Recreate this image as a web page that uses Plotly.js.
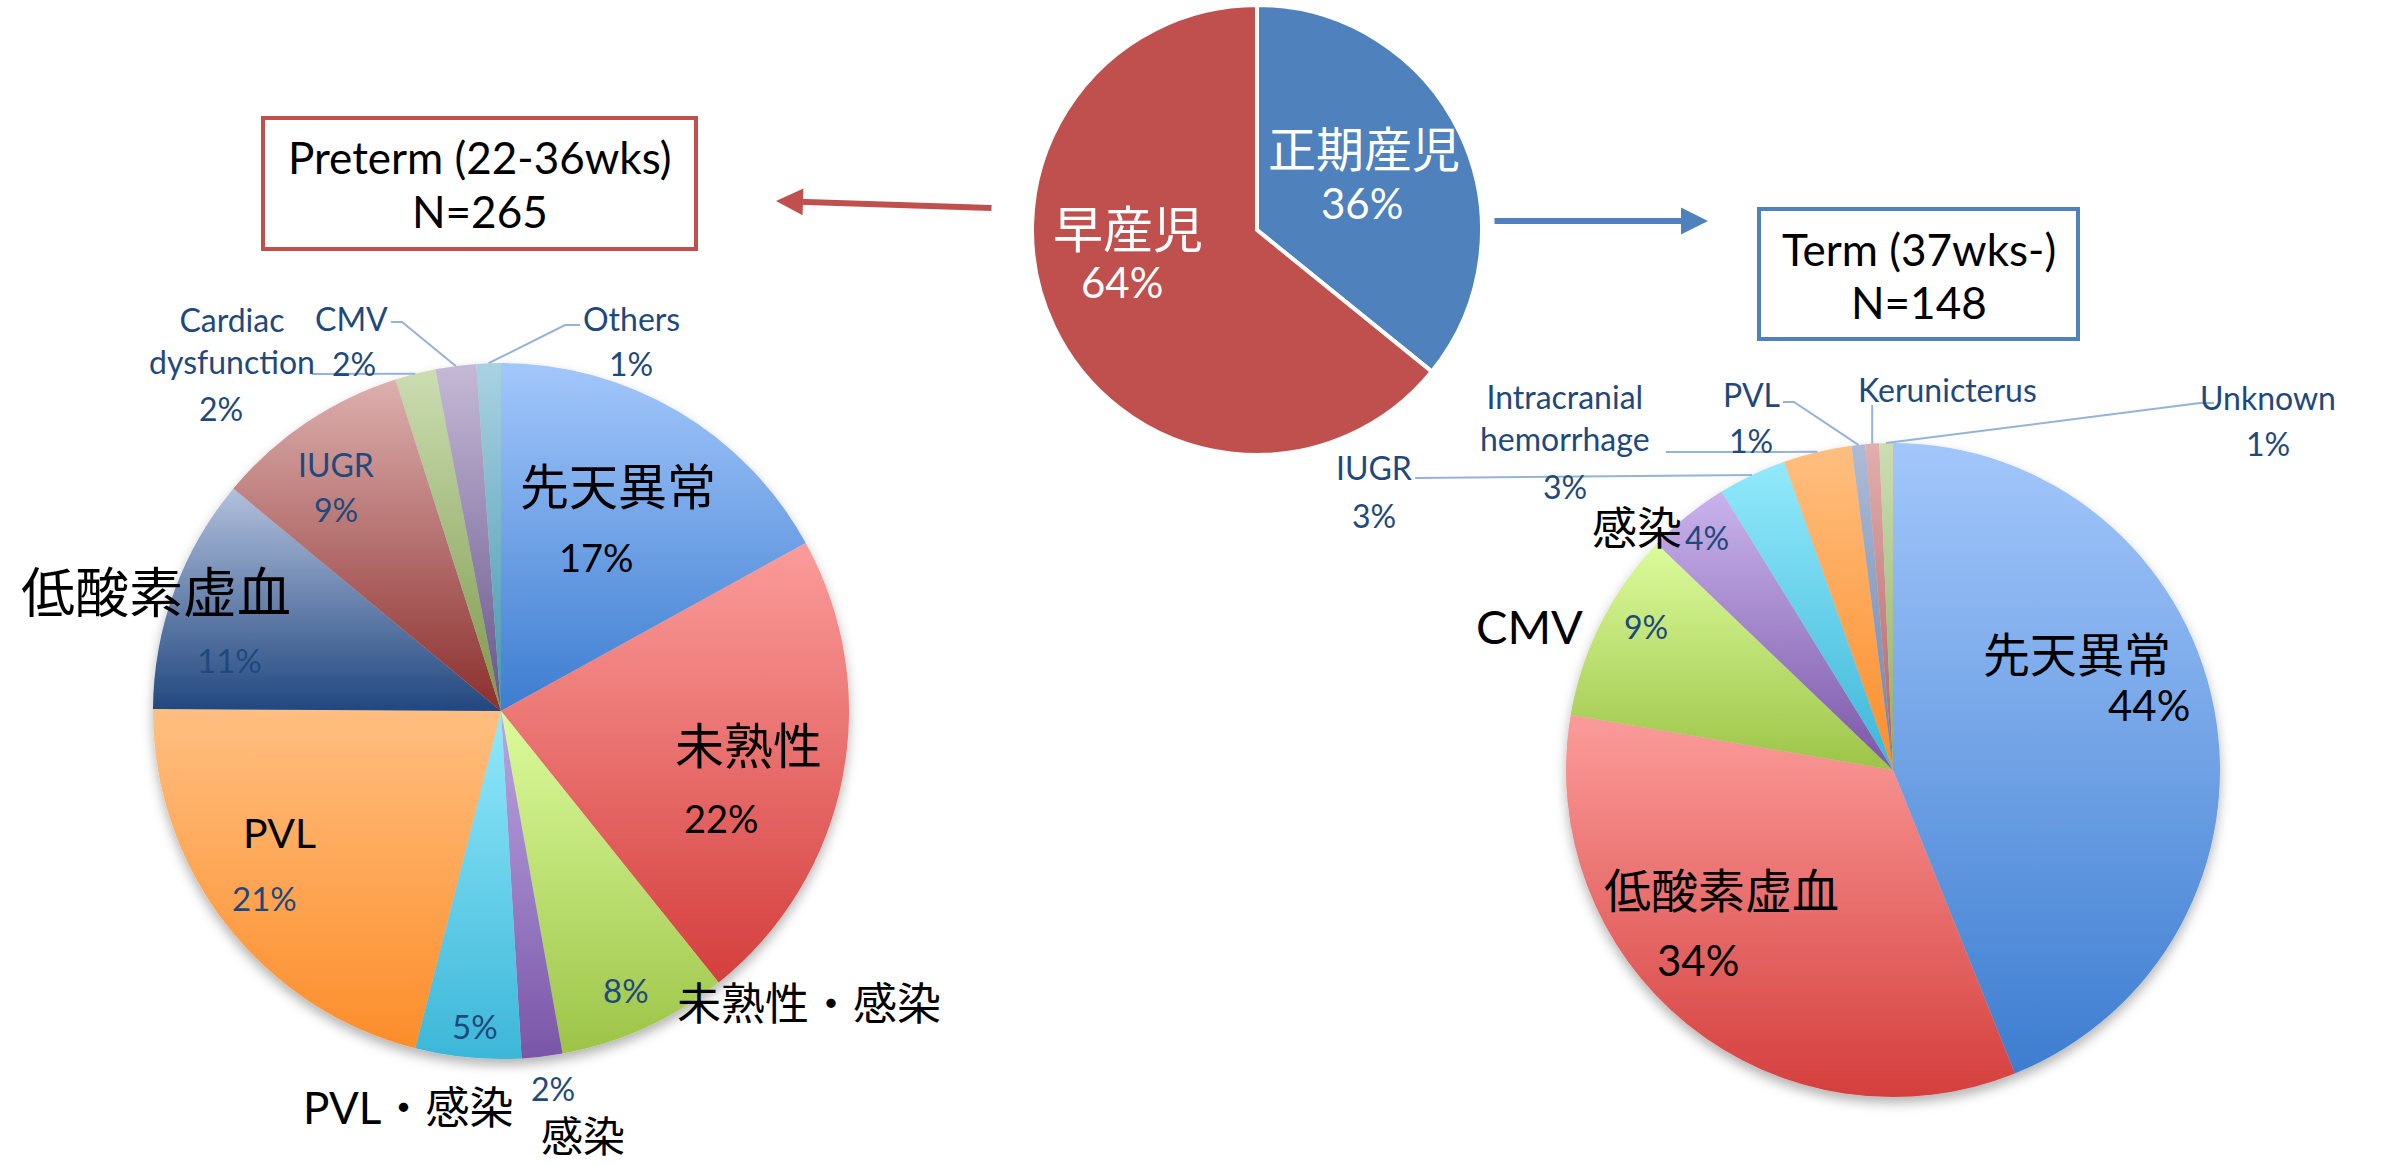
<!DOCTYPE html>
<html>
<head>
<meta charset="utf-8">
<script src="https://cdn.plot.ly/plotly-3.0.1.min.js"></script>
<style>
html,body{margin:0;padding:0;background:#fff;}
#chart{width:2394px;height:1166px;}
</style>
</head>
<body>
<div id="chart"></div>
<script>
// ---------------- DATA ----------------
const birthLabels = ['正期産児', '早産児'];
const birthCounts = [148, 265];

const pretermLabels = ['先天異常', '未熟性', '未熟性・感染', '感染', 'PVL・感染', 'PVL', '低酸素虚血', 'IUGR', 'Cardiac dysfunction', 'CMV', 'Others'];
const pretermCounts = [45, 59, 21, 5, 13, 56, 29, 24, 5, 5, 3];

const termLabels = ['先天異常', '低酸素虚血', 'CMV', '感染', 'IUGR', 'Intracranial hemorrhage', 'PVL', 'Kerunicterus', 'Unknown'];
const termCounts = [65, 50, 14, 6, 5, 5, 1, 1, 1];

const groupTitles = ['Preterm (22-36wks)', 'Term (37wks-)'];

// ---------------- STYLE / LAYOUT CONFIG ----------------
const W = 2394, H = 1166;
const fx = x => x / W;
const fy = y => 1 - y / H;
const FONT = "Lato, 'Noto Sans CJK JP', sans-serif";
const COL = {k: '#000000', n: '#1F497D', w: '#FFFFFF'};

const GEOM = {
  birth:   {cx: 1257, cy: 230, r: 225},
  preterm: {cx: 501,  cy: 711, r: 348},
  term:    {cx: 1893, cy: 770, r: 327}
};

const birthColors = ['#4F81BD', '#C0504D'];

const pretermGrad = [
  ['#A3C7FB', '#3D7DD0'], ['#FB9C9A', '#D43F3D'], ['#DCFB9C', '#9CC447'],
  ['#BCA6E2', '#7A56A8'], ['#92E9FB', '#3CB6D8'], ['#FFBF80', '#FC8D2A'],
  ['#B2C0DC', '#21477F'], ['#DCB0AE', '#8C2F2E'], ['#CCDDB2', '#7C984A'],
  ['#C6B9D6', '#64548A'], ['#A9D2E2', '#4496AE']
];
const termGrad = [
  ['#A3C7FB', '#3D7DD0'], ['#FB9C9A', '#D43F3D'], ['#DCFB9C', '#9CC447'],
  ['#C9B3EC', '#7A56A8'], ['#92E9FB', '#3CB6D8'], ['#FFBF80', '#FC8D2A'],
  ['#ADBBD6', '#6A84B0'], ['#E2AEAE', '#B25E5E'], ['#CBDDB2', '#8FAE62']
];

// label placement: [x, y, fontSize, colorKey] in page pixels
const birthText = [
  {name: [1364, 148, 48, 'w'], pct: [1362, 203, 42, 'w']},
  {name: [1128, 229, 50, 'w'], pct: [1122, 282, 42, 'w']}
];
const pretermText = [
  {name: [618, 486, 49, 'k'], pct: [596, 557, 38, 'k']},
  {name: [748, 745, 49, 'k'], pct: [721, 818, 38, 'k']},
  {name: [809, 1003, 44, 'k'], pct: [626, 990, 33, 'n']},
  {name: [583, 1136, 42, 'k'], pct: [553, 1088, 32, 'n']},
  {name: [408, 1107, 44, 'k'], pct: [475, 1026, 33, 'n']},
  {name: [279, 832, 41, 'k'], pct: [264, 898, 33, 'n']},
  {name: [156, 592, 54, 'k'], pct: [229, 660, 33, 'n']},
  {name: [336, 464, 32, 'n'], pct: [336, 510, 32, 'n']},
  {name: [232, 340, 32, 'n'], pct: [221, 408, 32, 'n'], br: true},
  {name: [351, 318, 32, 'n'], pct: [354, 363, 32, 'n']},
  {name: [631, 318, 32, 'n'], pct: [631, 363, 32, 'n']}
];
const termText = [
  {name: [2077, 654, 47, 'k'], pct: [2149, 705, 42, 'k']},
  {name: [1721, 890, 47, 'k'], pct: [1698, 960, 42, 'k']},
  {name: [1529, 626, 47, 'k'], pct: [1646, 626, 32, 'n']},
  {name: [1637, 528, 45, 'k'], pct: [1707, 538, 32, 'n']},
  {name: [1374, 467, 32, 'n'], pct: [1374, 515, 32, 'n']},
  {name: [1565, 417, 32, 'n'], pct: [1565, 486, 32, 'n'], br: true},
  {name: [1751, 394, 32, 'n'], pct: [1751, 440, 32, 'n']},
  {name: [1947, 389, 32, 'n']},
  {name: [2268, 397, 32, 'n'], pct: [2268, 443, 32, 'n']}
];

// leader lines: start points near label, end at slice edge (computed)
const pretermLeaders = [
  {i: 8, pts: [[312, 374]]},
  {i: 9, pts: [[391, 322], [402, 322]]},
  {i: 10, pts: [[580, 325], [565, 325]]}
];
const termLeaders = [
  {i: 4, pts: [[1415, 478]]},
  {i: 5, pts: [[1666, 452]]},
  {i: 6, pts: [[1783, 402], [1794, 402]]},
  {i: 7, vertical: 405},
  {i: 8, pts: [[2214, 403], [2200, 403]]}
];

// ---------------- BUILD ----------------
function domainOf(g) {
  return {x: [(g.cx - g.r) / W, (g.cx + g.r) / W], y: [1 - (g.cy + g.r) / H, 1 - (g.cy - g.r) / H]};
}
function pctText(vals) {
  const s = vals.reduce((a, b) => a + b, 0);
  return vals.map(v => Math.round(100 * v / s) + '%');
}
function sliceEdge(vals, i, g) {
  const s = vals.reduce((a, b) => a + b, 0);
  let before = 0;
  for (let k = 0; k < i; k++) before += vals[k];
  const th = 2 * Math.PI * (before + vals[i] / 2) / s;
  return [g.cx + g.r * Math.sin(th), g.cy - g.r * Math.cos(th)];
}

function pieTrace(labels, values, colors, g, line) {
  return {
    type: 'pie', labels: labels, values: values, sort: false, direction: 'clockwise', rotation: 0,
    marker: {colors: colors, line: line || {color: 'rgba(255,255,255,0)', width: 0}},
    textinfo: 'none', hoverinfo: 'skip', showlegend: false, domain: domainOf(g)
  };
}

const data = [
  pieTrace(birthLabels, birthCounts, birthColors, GEOM.birth, {color: '#FFFFFF', width: 4}),
  pieTrace(pretermLabels, pretermCounts, pretermGrad.map(c => c[1]), GEOM.preterm),
  pieTrace(termLabels, termCounts, termGrad.map(c => c[1]), GEOM.term)
];

const annotations = [];
const shapes = [];

function textAnn(t, x, y, s, c) {
  return {text: t, x: fx(x), y: fy(y), xref: 'paper', yref: 'paper', xanchor: 'center', yanchor: 'middle',
          showarrow: false, font: {family: FONT, size: s, color: COL[c]}};
}
function addLabels(labels, values, cfg) {
  const pcts = pctText(values);
  cfg.forEach((c, i) => {
    if (c.name) {
      let t = labels[i];
      if (c.br) t = t.replace(' ', '<br>');
      annotations.push(textAnn(t, c.name[0], c.name[1], c.name[2], c.name[3]));
    }
    if (c.pct) annotations.push(textAnn(pcts[i], c.pct[0], c.pct[1], c.pct[2], c.pct[3]));
  });
}
addLabels(birthLabels, birthCounts, birthText);
addLabels(pretermLabels, pretermCounts, pretermText);
addLabels(termLabels, termCounts, termText);

function addLeaders(values, leaders, g) {
  leaders.forEach(L => {
    const e = sliceEdge(values, L.i, g);
    let pts;
    if (L.vertical !== undefined) pts = [[e[0], L.vertical], e];
    else pts = L.pts.concat([e]);
    const path = pts.map((p, k) => (k ? 'L' : 'M') + fx(p[0]).toFixed(5) + ',' + fy(p[1]).toFixed(5)).join(' ');
    shapes.push({type: 'path', xref: 'paper', yref: 'paper', path: path, line: {color: '#95B3D7', width: 2}});
  });
}
addLeaders(pretermCounts, pretermLeaders, GEOM.preterm);
addLeaders(termCounts, termLeaders, GEOM.term);

// group boxes
const boxes = [
  {x0: 263, y0: 118, x1: 696, y1: 249, color: '#C0504D', t1: 157, t2: 211, counts: pretermCounts, title: groupTitles[0]},
  {x0: 1759, y0: 209, x1: 2078, y1: 339, color: '#4F81BD', t1: 249, t2: 302, counts: termCounts, title: groupTitles[1]}
];
boxes.forEach(b => {
  shapes.push({type: 'rect', xref: 'paper', yref: 'paper', x0: fx(b.x0), x1: fx(b.x1), y0: fy(b.y1), y1: fy(b.y0),
               line: {color: b.color, width: 4}, fillcolor: '#FFFFFF'});
  const cx = (b.x0 + b.x1) / 2;
  const n = b.counts.reduce((a, c) => a + c, 0);
  annotations.push(textAnn(b.title, cx, b.t1, 44, 'k'));
  annotations.push(textAnn('N=' + n, cx, b.t2, 44, 'k'));
});

// arrows
annotations.push({text: '', x: fx(776), y: fy(201), xref: 'paper', yref: 'paper', ax: 217, ay: 7,
  axref: 'pixel', ayref: 'pixel', showarrow: true, arrowhead: 2, arrowsize: 0.9, arrowwidth: 6, arrowcolor: '#C0504D'});
annotations.push({text: '', x: fx(1708), y: fy(221), xref: 'paper', yref: 'paper', ax: -215, ay: 0,
  axref: 'pixel', ayref: 'pixel', showarrow: true, arrowhead: 2, arrowsize: 0.9, arrowwidth: 6, arrowcolor: '#4F81BD'});

const layout = {
  width: W, height: H, margin: {l: 0, r: 0, t: 0, b: 0},
  paper_bgcolor: '#FFFFFF', plot_bgcolor: '#FFFFFF', showlegend: false,
  annotations: annotations, shapes: shapes
};

Plotly.newPlot('chart', data, layout, {staticPlot: true, displayModeBar: false}).then(gd => {
  const ns = 'http://www.w3.org/2000/svg';
  const svg = gd.querySelector('svg.main-svg');
  let defs = svg.querySelector('defs');
  if (!defs) { defs = document.createElementNS(ns, 'defs'); svg.insertBefore(defs, svg.firstChild); }
  const filt = document.createElementNS(ns, 'filter');
  filt.setAttribute('id', 'pieShadow');
  filt.setAttribute('x', '-10%'); filt.setAttribute('y', '-10%');
  filt.setAttribute('width', '120%'); filt.setAttribute('height', '125%');
  const ds = document.createElementNS(ns, 'feDropShadow');
  ds.setAttribute('dx', '0'); ds.setAttribute('dy', '6'); ds.setAttribute('stdDeviation', '6');
  ds.setAttribute('flood-color', '#000'); ds.setAttribute('flood-opacity', '0.3');
  filt.appendChild(ds); defs.appendChild(filt);

  const grads = [null, pretermGrad, termGrad];
  const traces = gd.querySelectorAll('.pielayer .trace');
  traces.forEach((tr, ti) => {
    const gcfg = grads[ti];
    if (!gcfg) return;
    tr.setAttribute('filter', 'url(#pieShadow)');
    tr.querySelectorAll('g.slice').forEach((sl, k) => {
      const d = sl.__data__;
      const idx = (d && typeof d.i === 'number') ? d.i : k;
      const c = gcfg[idx];
      if (!c) return;
      const lg = document.createElementNS(ns, 'linearGradient');
      const id = 'grad' + ti + '_' + idx;
      lg.setAttribute('id', id);
      lg.setAttribute('x1', '0'); lg.setAttribute('y1', '0'); lg.setAttribute('x2', '0'); lg.setAttribute('y2', '1');
      [[0, c[0]], [1, c[1]]].forEach(s => {
        const st = document.createElementNS(ns, 'stop');
        st.setAttribute('offset', s[0]); st.setAttribute('stop-color', s[1]);
        lg.appendChild(st);
      });
      defs.appendChild(lg);
      const p = sl.querySelector('path.surface');
      if (p) p.style.fill = 'url(#' + id + ')';
    });
  });
});
</script>
</body>
</html>
